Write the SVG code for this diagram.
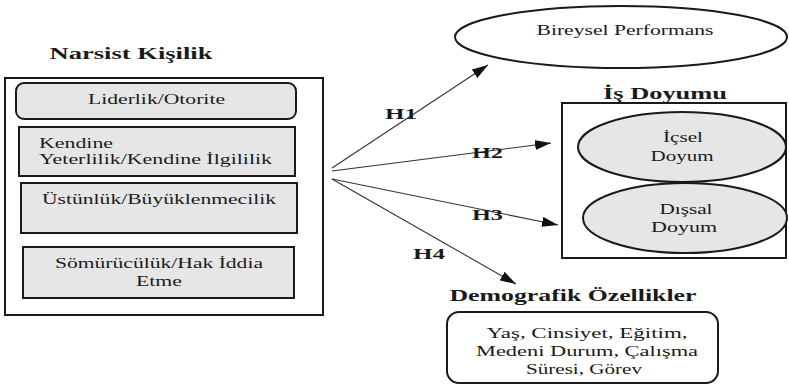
<svg xmlns="http://www.w3.org/2000/svg" width="789" height="384" viewBox="0 0 789 384">
<style>
.box{fill:#e6e6e6;stroke:#1a1a1a;stroke-width:2;}
.wbox{fill:#fff;stroke:#1a1a1a;stroke-width:2;}
.conn line{stroke:#333;stroke-width:1.1;marker-end:url(#ah);}
</style>
<defs>
<marker id="ah" viewBox="0 0 16 10" markerWidth="16" markerHeight="10" refX="16" refY="5" orient="auto" markerUnits="userSpaceOnUse">
<path d="M0,0 L16,5 L0,10 z" fill="#111"/>
</marker>
</defs>
<rect width="789" height="384" fill="#fff"/>

<g id="narsist">
<text font-family="Liberation Serif" font-size="17" font-weight="bold" fill="#1a1a1a" x="131" y="59" text-anchor="middle" textLength="163" lengthAdjust="spacingAndGlyphs">Narsist Kişilik</text>
<rect class="wbox" x="5" y="78" width="318" height="237" stroke-width="1.8"/>
</g>
<g id="liderlik">
<rect class="box" x="16" y="83" width="280" height="36" rx="8"/>
<text font-family="Liberation Serif" font-size="14.5" fill="#1a1a1a" x="156.5" y="104" text-anchor="middle" textLength="137" lengthAdjust="spacingAndGlyphs">Liderlik/Otorite</text>
</g>
<g id="kendine">
<rect class="box" x="19" y="127" width="276" height="49"/>
<text font-family="Liberation Serif" font-size="14.5" fill="#1a1a1a" x="39" y="148" textLength="74" lengthAdjust="spacingAndGlyphs">Kendine</text>
<text font-family="Liberation Serif" font-size="14.5" fill="#1a1a1a" x="39" y="164" textLength="233" lengthAdjust="spacingAndGlyphs">Yeterlilik/Kendine İlgililik</text>
</g>
<g id="ustunluk">
<rect class="box" x="21" y="183" width="276" height="50"/>
<text font-family="Liberation Serif" font-size="14.5" fill="#1a1a1a" x="42" y="204" textLength="234" lengthAdjust="spacingAndGlyphs">Üstünlük/Büyüklenmecilik</text>
</g>
<g id="somuruculuk">
<rect class="box" x="23" y="247" width="271" height="51"/>
<text font-family="Liberation Serif" font-size="14.5" fill="#1a1a1a" x="159" y="268" text-anchor="middle" textLength="208" lengthAdjust="spacingAndGlyphs">Sömürücülük/Hak İddia</text>
<text font-family="Liberation Serif" font-size="14.5" fill="#1a1a1a" x="159" y="286" text-anchor="middle" textLength="46" lengthAdjust="spacingAndGlyphs">Etme</text>
</g>

<g id="bireysel">
<ellipse class="wbox" cx="621" cy="37" rx="166" ry="31"/>
<text font-family="Liberation Serif" font-size="14.5" fill="#1a1a1a" x="625" y="35" text-anchor="middle" textLength="177" lengthAdjust="spacingAndGlyphs">Bireysel Performans</text>
</g>

<g id="isdoyumu">
<text font-family="Liberation Serif" font-size="16" font-weight="bold" fill="#1a1a1a" x="665" y="99" text-anchor="middle" textLength="124" lengthAdjust="spacingAndGlyphs">İş Doyumu</text>
<rect class="wbox" x="562" y="103" width="224" height="155"/>
</g>
<g id="icsel">
<ellipse class="box" cx="682" cy="147" rx="104" ry="35"/>
<text font-family="Liberation Serif" font-size="14.5" fill="#1a1a1a" x="683" y="142" text-anchor="middle" textLength="40" lengthAdjust="spacingAndGlyphs">İçsel</text>
<text font-family="Liberation Serif" font-size="14.5" fill="#1a1a1a" x="682" y="161" text-anchor="middle" textLength="63" lengthAdjust="spacingAndGlyphs">Doyum</text>
</g>
<g id="dissal">
<ellipse class="box" cx="685" cy="218" rx="102" ry="35"/>
<text font-family="Liberation Serif" font-size="14.5" fill="#1a1a1a" x="686" y="214" text-anchor="middle" textLength="53" lengthAdjust="spacingAndGlyphs">Dışsal</text>
<text font-family="Liberation Serif" font-size="14.5" fill="#1a1a1a" x="684" y="232" text-anchor="middle" textLength="66" lengthAdjust="spacingAndGlyphs">Doyum</text>
</g>

<g id="demografik">
<text font-family="Liberation Serif" font-size="16" font-weight="bold" fill="#1a1a1a" x="573" y="301" text-anchor="middle" textLength="247" lengthAdjust="spacingAndGlyphs">Demografik Özellikler</text>
<rect class="wbox" x="447" y="312" width="271" height="71" rx="12"/>
<text font-family="Liberation Serif" font-size="14.5" fill="#1a1a1a" x="587" y="338" text-anchor="middle" textLength="201" lengthAdjust="spacingAndGlyphs">Yaş, Cinsiyet, Eğitim,</text>
<text font-family="Liberation Serif" font-size="14.5" fill="#1a1a1a" x="587" y="356" text-anchor="middle" textLength="222" lengthAdjust="spacingAndGlyphs">Medeni Durum, Çalışma</text>
<text font-family="Liberation Serif" font-size="14.5" fill="#1a1a1a" x="584" y="374" text-anchor="middle" textLength="116" lengthAdjust="spacingAndGlyphs">Süresi, Görev</text>
</g>

<g id="connectors" class="conn">
<line x1="332" y1="168" x2="488" y2="65"/>
<line x1="332" y1="171" x2="551" y2="143"/>
<line x1="332" y1="179" x2="558" y2="225"/>
<line x1="332" y1="179" x2="516" y2="284"/>
<text font-family="Liberation Serif" font-size="15" font-weight="bold" fill="#1a1a1a" x="385" y="119" textLength="32" lengthAdjust="spacingAndGlyphs">H1</text>
<text font-family="Liberation Serif" font-size="15" font-weight="bold" fill="#1a1a1a" x="472" y="158" textLength="31" lengthAdjust="spacingAndGlyphs">H2</text>
<text font-family="Liberation Serif" font-size="15" font-weight="bold" fill="#1a1a1a" x="472" y="220" textLength="31" lengthAdjust="spacingAndGlyphs">H3</text>
<text font-family="Liberation Serif" font-size="15" font-weight="bold" fill="#1a1a1a" x="413" y="259" textLength="32" lengthAdjust="spacingAndGlyphs">H4</text>
</g>
</svg>
